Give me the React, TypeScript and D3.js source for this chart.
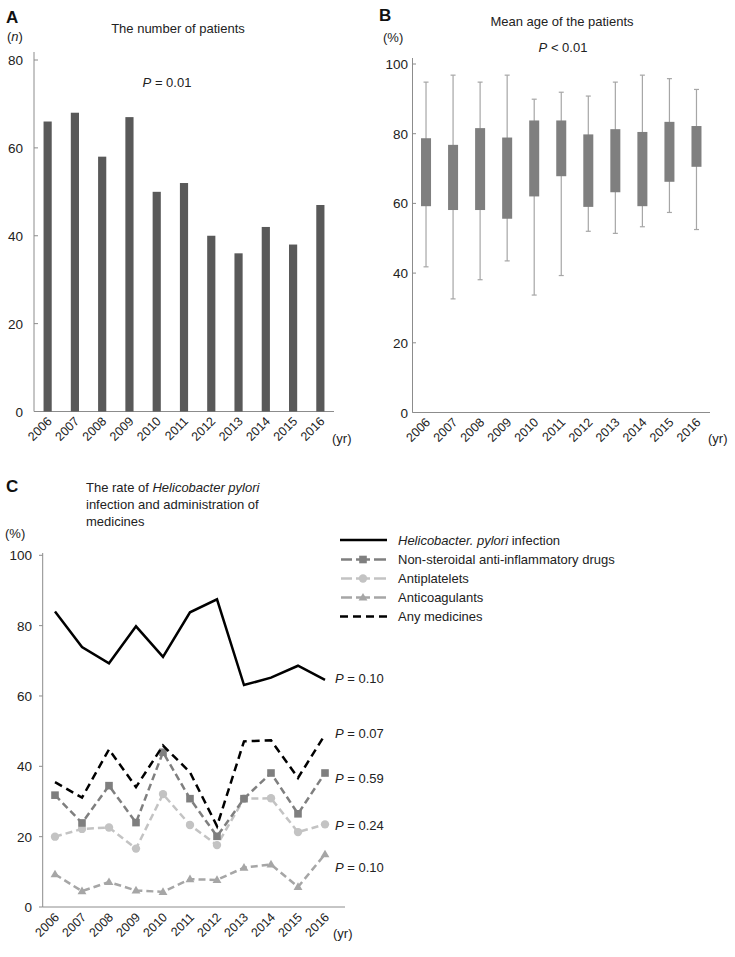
import React from "react";
import * as d3 from "d3";

const years = ["2006","2007","2008","2009","2010","2011","2012","2013","2014","2015","2016"];

// Panel A
const patients = [66, 68, 58, 67, 50, 52, 40, 36, 42, 38, 47];
const ticksA = [0, 20, 40, 60, 80];

// Panel B box plots
const whiskerHigh = [94.8, 96.8, 94.8, 96.8, 89.9, 91.9, 90.8, 94.8, 96.8, 95.8, 92.7];
const boxHigh = [78.7, 76.8, 81.6, 78.9, 83.8, 83.8, 79.8, 81.3, 80.5, 83.4, 82.2];
const boxLow = [59.2, 58.1, 58.1, 55.6, 62.0, 67.8, 59.0, 63.2, 59.2, 66.2, 70.5];
const whiskerLow = [41.8, 32.6, 38.1, 43.5, 33.7, 39.3, 52.0, 51.4, 53.3, 57.4, 52.5];
const ticksB = [0, 20, 40, 60, 80, 100];

// Panel C lines
const hpylori = [84.0, 73.9, 69.3, 79.8, 71.1, 83.8, 87.5, 63.1, 65.2, 68.6, 64.6];
const nsaids = [31.8, 23.9, 34.5, 24.0, 44.0, 30.8, 20.1, 30.8, 38.1, 26.5, 38.1];
const antiplatelets = [20.0, 22.2, 22.6, 16.6, 32.1, 23.3, 17.6, 30.8, 30.9, 21.3, 23.5];
const anticoagulants = [9.3, 4.5, 7.1, 4.7, 4.3, 7.9, 7.7, 11.2, 12.1, 5.7, 15.0];
const anyMedicines = [35.5, 31.1, 44.8, 34.1, 45.9, 38.3, 23.0, 47.1, 47.4, 36.7, 49.0];
const pValuesC = ["0.10", "0.07", "0.59", "0.24", "0.10"];
const ticksC = [0, 20, 40, 60, 80, 100];
const legendLabels = ["Non-steroidal anti-inflammatory drugs", "Antiplatelets", "Anticoagulants", "Any medicines"];

const FONT = "'Liberation Sans', Arial, sans-serif";
const AXIS = "#8c8c8c";

function YearLabels({ xs, y, size }: { xs: number[]; y: number; size: number }) {
  return (
    <g>
      {years.map((yr, i) => (
        <text key={yr} transform={`translate(${xs[i] + 5},${y}) rotate(-45)`} textAnchor="end" fontSize={size} fill="#222">
          {yr}
        </text>
      ))}
    </g>
  );
}

export default function App() {
  // ---------- Panel A ----------
  const xA = d3.scaleBand<string>().domain(years).range([34, 334]).paddingInner(0.7).paddingOuter(0.35);
  const yA = d3.scaleLinear().domain([0, 80]).range([411.5, 60]);

  // ---------- Panel B ----------
  const xB = d3.scaleBand<string>().domain(years).range([412.5, 710]).paddingInner(0.63).paddingOuter(0.315);
  const yB = d3.scaleLinear().domain([0, 100]).range([412.5, 64]);

  // ---------- Panel C ----------
  const xC = d3.scalePoint<string>().domain(years).range([55, 325]);
  const yC = d3.scaleLinear().domain([0, 100]).range([907, 555.3]);
  const line = (vals: number[]) =>
    d3.line<number>().x((_, i) => xC(years[i]) as number).y((v) => yC(v))(vals) as string;

  const series = [
    { vals: anticoagulants, color: "#a6a6a6", dash: "7,4", marker: "tri" },
    { vals: antiplatelets, color: "#c3c3c3", dash: "7,4", marker: "circle" },
    { vals: nsaids, color: "#7f7f7f", dash: "7,4", marker: "square" },
    { vals: anyMedicines, color: "#000", dash: "8,5", marker: "none" },
    { vals: hpylori, color: "#000", dash: "", marker: "none" },
  ];

  const marker = (type: string, cx: number, cy: number, color: string, key: string | number) => {
    if (type === "square") return <rect key={key} x={cx - 3.8} y={cy - 3.8} width={7.6} height={7.6} fill={color} />;
    if (type === "circle") return <circle key={key} cx={cx} cy={cy} r={4.2} fill={color} />;
    if (type === "tri") {
      const tri = d3.symbol().type(d3.symbolTriangle).size(34)();
      return <path key={key} d={tri as string} transform={`translate(${cx},${cy + 0.5})`} fill={color} />;
    }
    return null;
  };

  const pLabelY = [683, 738, 783, 830, 872];

  const legendItems = [
    { color: "#7f7f7f", dash: "7,4", marker: "square" },
    { color: "#c3c3c3", dash: "7,4", marker: "circle" },
    { color: "#a6a6a6", dash: "7,4", marker: "tri" },
    { color: "#000", dash: "8,5", marker: "none" },
  ];
  const legendY = [540, 559.5, 578.5, 597.5, 616.5];

  return (
    <svg width={735} height={957} style={{ position: "absolute", left: 0, top: 0, background: "#fff" }} fontFamily={FONT}>
      <rect x={0} y={0} width={735} height={957} fill="#fff" />

      {/* ================= Panel A ================= */}
      <text x={6} y={23} fontSize={17} fontWeight="bold" fill="#111">A</text>
      <text x={178} y={33} fontSize={13} textAnchor="middle" fill="#222">The number of patients</text>
      <text x={7} y={41} fontSize={13} fill="#222">(<tspan fontStyle="italic">n</tspan>)</text>
      <text x={167} y={87} fontSize={13} textAnchor="middle" fill="#222">
        <tspan fontStyle="italic">P</tspan> = 0.01
      </text>
      <line x1={34} x2={34} y1={52} y2={411.5} stroke={AXIS} strokeWidth={1} />
      <line x1={34} x2={334} y1={411.5} y2={411.5} stroke={AXIS} strokeWidth={1} />
      {ticksA.map((t) => (
        <g key={t}>
          <line x1={34} x2={38} y1={yA(t)} y2={yA(t)} stroke={AXIS} />
          <text x={23} y={yA(t) + 5} fontSize={13.5} textAnchor="end" fill="#222">{t}</text>
        </g>
      ))}
      {patients.map((v, i) => (
        <rect key={i} x={xA(years[i])} y={yA(v)} width={xA.bandwidth()} height={yA(0) - yA(v)} fill="#595959" />
      ))}
      <YearLabels xs={years.map((y) => (xA(y) as number) + xA.bandwidth() / 2)} y={422} size={12.5} />
      <text x={332} y={443} fontSize={13} fill="#222">(yr)</text>

      {/* ================= Panel B ================= */}
      <text x={379} y={21} fontSize={17} fontWeight="bold" fill="#111">B</text>
      <text x={562} y={26} fontSize={13} textAnchor="middle" fill="#222">Mean age of the patients</text>
      <text x={383} y={42} fontSize={13} fill="#222">(%)</text>
      <text x={563} y={52} fontSize={13} textAnchor="middle" fill="#222">
        <tspan fontStyle="italic">P</tspan> &lt; 0.01
      </text>
      <line x1={412.5} x2={412.5} y1={58} y2={412.5} stroke={AXIS} />
      <line x1={412.5} x2={710} y1={412.5} y2={412.5} stroke={AXIS} />
      {ticksB.map((t) => (
        <g key={t}>
          <line x1={412.5} x2={416} y1={yB(t)} y2={yB(t)} stroke={AXIS} />
          <text x={408} y={yB(t) + 5} fontSize={13.5} textAnchor="end" fill="#222">{t}</text>
        </g>
      ))}
      {years.map((yr, i) => {
        const cx = (xB(yr) as number) + xB.bandwidth() / 2;
        return (
          <g key={yr}>
            <line x1={cx} x2={cx} y1={yB(whiskerHigh[i])} y2={yB(whiskerLow[i])} stroke="#a6a6a6" strokeWidth={1.2} />
            <line x1={cx - 2.5} x2={cx + 2.5} y1={yB(whiskerHigh[i])} y2={yB(whiskerHigh[i])} stroke="#a6a6a6" strokeWidth={1.2} />
            <line x1={cx - 2.5} x2={cx + 2.5} y1={yB(whiskerLow[i])} y2={yB(whiskerLow[i])} stroke="#a6a6a6" strokeWidth={1.2} />
            <rect x={xB(yr)} y={yB(boxHigh[i])} width={xB.bandwidth()} height={yB(boxLow[i]) - yB(boxHigh[i])} fill="#7f7f7f" />
          </g>
        );
      })}
      <YearLabels xs={years.map((y) => (xB(y) as number) + xB.bandwidth() / 2)} y={423} size={12.5} />
      <text x={708} y={443} fontSize={13} fill="#222">(yr)</text>

      {/* ================= Panel C ================= */}
      <text x={6} y={492} fontSize={17} fontWeight="bold" fill="#111">C</text>
      <text x={86} y={492} fontSize={13} fill="#222">
        The rate of <tspan fontStyle="italic">Helicobacter pylori</tspan>
      </text>
      <text x={86} y={509} fontSize={13} fill="#222">infection and administration of</text>
      <text x={86} y={526} fontSize={13} fill="#222">medicines</text>
      <text x={5} y={538} fontSize={13} fill="#222">(%)</text>
      <line x1={42.7} x2={42.7} y1={553} y2={907} stroke={AXIS} />
      <line x1={42.7} x2={345} y1={907} y2={907} stroke={AXIS} />
      {ticksC.map((t) => (
        <g key={t}>
          <line x1={39} x2={42.7} y1={yC(t)} y2={yC(t)} stroke={AXIS} />
          <text x={32} y={yC(t) + 5} fontSize={13.5} textAnchor="end" fill="#222">{t}</text>
        </g>
      ))}
      {series.map((s, si) => (
        <g key={si}>
          <path d={line(s.vals)} fill="none" stroke={s.color} strokeWidth={2.5} strokeDasharray={s.dash || undefined} strokeLinejoin="miter" />
          {s.vals.map((v, i) => marker(s.marker, xC(years[i]) as number, yC(v), s.color, i))}
        </g>
      ))}
      {pValuesC.map((p, i) => (
        <text key={i} x={335} y={pLabelY[i]} fontSize={13} fill="#222">
          <tspan fontStyle="italic">P</tspan> = {p}
        </text>
      ))}
      <YearLabels xs={years.map((y) => xC(y) as number)} y={918} size={12.5} />
      <text x={333} y={938} fontSize={13} fill="#222">(yr)</text>

      {/* Legend */}
      <line x1={340} x2={387} y1={legendY[0]} y2={legendY[0]} stroke="#000" strokeWidth={2.5} />
      <text x={398} y={legendY[0] + 4.5} fontSize={13} fill="#222">
        <tspan fontStyle="italic">Helicobacter. pylori</tspan> infection
      </text>
      {legendItems.map((it, i) => {
        const ly = legendY[i + 1];
        return (
          <g key={i}>
            {it.marker === "none" ? (
              <line x1={340} x2={387} y1={ly} y2={ly} stroke={it.color} strokeWidth={2.5} strokeDasharray="8,5" />
            ) : (
              <g>
                <line x1={341} x2={352} y1={ly} y2={ly} stroke={it.color} strokeWidth={2.5} />
                <line x1={356} x2={370} y1={ly} y2={ly} stroke={it.color} strokeWidth={2.5} />
                <line x1={374} x2={386} y1={ly} y2={ly} stroke={it.color} strokeWidth={2.5} />
                {marker(it.marker, 363, ly, it.color, "m")}
              </g>
            )}
            <text x={398} y={ly + 4.5} fontSize={13} fill="#222">{legendLabels[i]}</text>
          </g>
        );
      })}
    </svg>
  );
}
